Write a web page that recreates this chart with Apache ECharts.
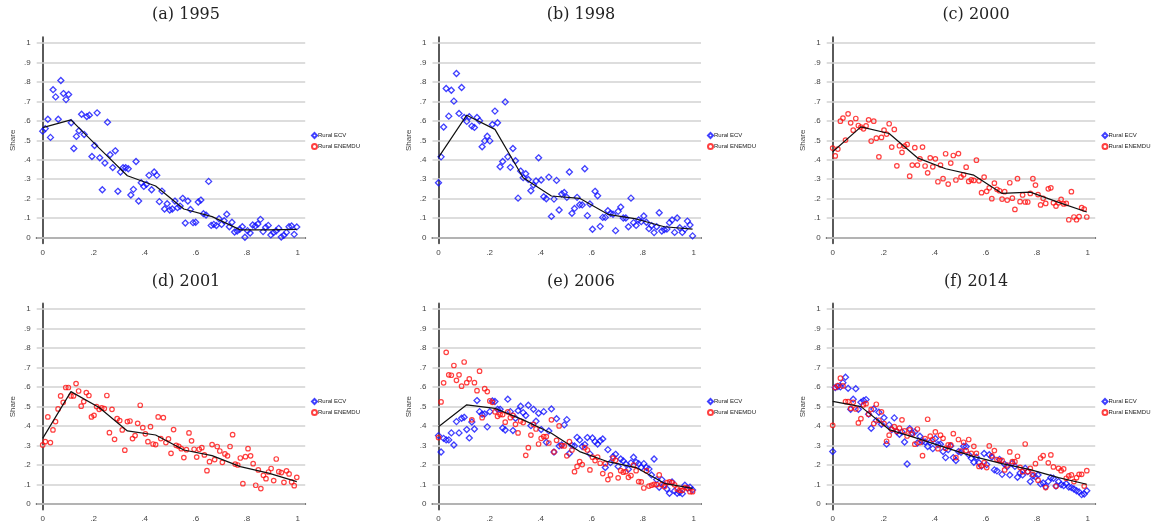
<!DOCTYPE html>
<html>
<head>
<meta charset="utf-8" />
<title>Rural share by percentile</title>
<style>
  html, body { margin: 0; padding: 0; background: #fff; }
  #chartBox { width: 1151px; height: 529px; }
</style>
</head>
<body>
<div id="chartBox"></div>
<script src="https://cdn.jsdelivr.net/npm/echarts@6/dist/echarts.min.js"></script>
<script>
// panel titles
var panelTitles = ['(a) 1995', '(b) 1998', '(c) 2000', '(d) 2001', '(e) 2006', '(f) 2014'];
var yTicks = [0, 0.1, 0.2, 0.3, 0.4, 0.5, 0.6, 0.7, 0.8, 0.9, 1];
var xTicks = [0, 0.2, 0.4, 0.6, 0.8, 1];

// Rural ECV (blue diamonds)
var ecv1995 = [0.547,0.56,0.608,0.515,0.76,0.723,0.608,0.807,0.74,0.709,
  0.735,0.59,0.458,0.52,0.549,0.634,0.53,0.622,0.629,0.417,
  0.473,0.641,0.41,0.246,0.383,0.593,0.426,0.36,0.446,0.238,
  0.337,0.359,0.359,0.354,0.219,0.248,0.391,0.188,0.282,0.263,
  0.274,0.32,0.246,0.337,0.32,0.185,0.239,0.147,0.174,0.142,
  0.147,0.188,0.154,0.162,0.202,0.075,0.188,0.145,0.077,0.079,
  0.183,0.193,0.123,0.116,0.289,0.063,0.068,0.062,0.097,0.068,
  0.087,0.12,0.056,0.079,0.029,0.034,0.043,0.056,0.002,0.036,
  0.024,0.065,0.06,0.07,0.094,0.031,0.053,0.063,0.014,0.026,
  0.034,0.048,0.003,0.012,0.027,0.056,0.06,0.017,0.055];
var ecv1998 = [0.282,0.415,0.568,0.766,0.624,0.757,0.701,0.843,0.638,0.771,
  0.617,0.597,0.621,0.573,0.566,0.617,0.6,0.467,0.497,0.521,
  0.497,0.581,0.65,0.59,0.364,0.391,0.697,0.415,0.361,0.458,
  0.395,0.203,0.342,0.308,0.328,0.299,0.241,0.27,0.291,0.41,
  0.296,0.21,0.2,0.311,0.109,0.198,0.294,0.142,0.224,0.232,
  0.207,0.337,0.125,0.15,0.207,0.169,0.168,0.354,0.113,0.173,
  0.043,0.238,0.215,0.058,0.104,0.104,0.138,0.125,0.12,0.036,
  0.135,0.157,0.101,0.101,0.056,0.203,0.077,0.063,0.091,0.082,
  0.111,0.079,0.046,0.062,0.026,0.056,0.128,0.034,0.041,0.044,
  0.077,0.091,0.027,0.101,0.051,0.027,0.044,0.085,0.065,0.009];
var ecv2006 = [0.351,0.267,0.337,0.329,0.329,0.365,0.303,0.423,0.365,0.44,
  0.445,0.382,0.339,0.421,0.385,0.531,0.474,0.461,0.462,0.396,
  0.474,0.529,0.526,0.486,0.486,0.39,0.38,0.538,0.474,0.377,
  0.44,0.479,0.502,0.469,0.454,0.507,0.402,0.486,0.425,0.466,
  0.382,0.474,0.317,0.375,0.488,0.267,0.438,0.298,0.303,0.406,
  0.433,0.259,0.301,0.298,0.342,0.329,0.295,0.305,0.341,0.257,
  0.339,0.32,0.308,0.324,0.334,0.187,0.279,0.212,0.243,0.255,
  0.193,0.231,0.221,0.205,0.178,0.211,0.24,0.214,0.207,0.187,
  0.207,0.187,0.18,0.149,0.231,0.125,0.086,0.125,0.098,0.077,
  0.055,0.113,0.067,0.055,0.06,0.053,0.096,0.08,0.086,0.072];
var ecv2014 = [0.269,0.598,0.603,0.601,0.623,0.651,0.594,0.486,0.538,0.592,
  0.486,0.522,0.531,0.536,0.461,0.389,0.488,0.428,0.471,0.409,
  0.443,0.307,0.406,0.382,0.442,0.372,0.358,0.37,0.318,0.205,
  0.387,0.365,0.37,0.313,0.348,0.322,0.318,0.295,0.317,0.284,
  0.336,0.305,0.307,0.269,0.238,0.279,0.298,0.238,0.223,0.269,
  0.265,0.296,0.295,0.253,0.235,0.214,0.24,0.212,0.195,0.259,
  0.202,0.253,0.241,0.175,0.17,0.229,0.152,0.204,0.192,0.149,
  0.209,0.193,0.137,0.159,0.149,0.183,0.166,0.115,0.144,0.139,
  0.149,0.103,0.108,0.089,0.116,0.135,0.132,0.092,0.115,0.099,
  0.094,0.104,0.087,0.084,0.077,0.068,0.062,0.048,0.051,0.068];

// Rural ENEMDU (red circles)
var enemdu2000 = [0.46,0.42,0.455,0.598,0.614,0.501,0.636,0.59,0.552,0.612,
  0.576,0.568,0.559,0.574,0.605,0.496,0.598,0.511,0.415,0.515,
  0.552,0.532,0.585,0.465,0.556,0.369,0.472,0.438,0.47,0.479,
  0.316,0.373,0.462,0.373,0.405,0.465,0.368,0.333,0.41,0.364,
  0.405,0.287,0.373,0.303,0.431,0.275,0.383,0.422,0.296,0.432,
  0.311,0.323,0.362,0.289,0.297,0.294,0.398,0.292,0.231,0.311,
  0.238,0.256,0.2,0.28,0.248,0.241,0.198,0.236,0.193,0.282,
  0.203,0.145,0.303,0.185,0.219,0.183,0.183,0.227,0.303,0.27,
  0.221,0.168,0.202,0.176,0.251,0.256,0.179,0.162,0.179,0.197,
  0.173,0.176,0.092,0.236,0.106,0.092,0.108,0.154,0.147,0.106];
var enemdu2001 = [0.303,0.32,0.447,0.315,0.38,0.423,0.488,0.555,0.522,0.598,
  0.598,0.555,0.555,0.618,0.58,0.502,0.526,0.572,0.557,0.447,
  0.455,0.5,0.486,0.493,0.49,0.557,0.366,0.486,0.332,0.438,
  0.428,0.38,0.276,0.423,0.426,0.336,0.351,0.414,0.507,0.392,
  0.36,0.32,0.397,0.308,0.305,0.447,0.336,0.443,0.315,0.334,
  0.26,0.382,0.301,0.296,0.284,0.238,0.279,0.365,0.324,0.281,
  0.241,0.281,0.289,0.252,0.171,0.217,0.305,0.228,0.295,0.272,
  0.214,0.257,0.247,0.295,0.356,0.205,0.2,0.236,0.104,0.243,
  0.284,0.247,0.207,0.096,0.175,0.079,0.147,0.13,0.164,0.182,
  0.12,0.231,0.166,0.161,0.111,0.17,0.154,0.113,0.094,0.137];
var enemdu2006 = [0.341,0.524,0.622,0.779,0.663,0.661,0.711,0.635,0.663,0.605,
  0.729,0.623,0.642,0.432,0.623,0.582,0.682,0.443,0.592,0.577,
  0.529,0.522,0.473,0.45,0.459,0.459,0.42,0.473,0.443,0.455,
  0.409,0.365,0.426,0.418,0.25,0.289,0.354,0.409,0.385,0.308,
  0.337,0.346,0.346,0.313,0.432,0.267,0.327,0.401,0.3,0.298,
  0.247,0.32,0.277,0.166,0.193,0.217,0.202,0.289,0.277,0.175,
  0.24,0.223,0.241,0.209,0.156,0.207,0.125,0.149,0.235,0.224,
  0.134,0.171,0.163,0.166,0.137,0.146,0.199,0.171,0.115,0.113,
  0.082,0.171,0.092,0.096,0.101,0.099,0.149,0.099,0.089,0.11,
  0.113,0.11,0.098,0.077,0.07,0.07,0.084,0.082,0.063,0.063];
var enemdu2014 = [0.404,0.598,0.608,0.646,0.606,0.526,0.526,0.491,0.522,0.488,
  0.416,0.438,0.509,0.515,0.461,0.486,0.413,0.512,0.43,0.473,
  0.413,0.322,0.353,0.384,0.397,0.373,0.389,0.432,0.375,0.349,
  0.38,0.358,0.307,0.385,0.315,0.248,0.336,0.435,0.348,0.331,
  0.37,0.284,0.353,0.337,0.286,0.303,0.303,0.361,0.238,0.331,
  0.272,0.317,0.274,0.331,0.26,0.296,0.26,0.193,0.197,0.212,
  0.187,0.298,0.247,0.274,0.228,0.223,0.224,0.175,0.2,0.267,
  0.217,0.217,0.245,0.188,0.166,0.308,0.166,0.183,0.152,0.207,
  0.122,0.236,0.248,0.084,0.211,0.252,0.19,0.091,0.183,0.171,
  0.18,0.132,0.144,0.149,0.115,0.135,0.152,0.152,0.092,0.171];

// black fitted line, 10 bins
var fit1995 = [0.565,0.605,0.46,0.318,0.265,0.147,0.108,0.04,0.04,0.043];
var fit1998 = [0.412,0.629,0.556,0.308,0.214,0.202,0.12,0.096,0.056,0.044];
var fit2000 = [0.441,0.569,0.535,0.41,0.354,0.321,0.227,0.234,0.181,0.132];
var fit2001 = [0.337,0.577,0.495,0.375,0.354,0.277,0.248,0.192,0.158,0.115];
var fit2006 = [0.397,0.509,0.491,0.432,0.363,0.269,0.217,0.187,0.106,0.08];
var fit2014 = [0.527,0.5,0.382,0.337,0.289,0.243,0.207,0.176,0.135,0.101];

var panelEcv = [ecv1995, ecv1998, null, null, ecv2006, ecv2014];
var panelEnemdu = [null, null, enemdu2000, enemdu2001, enemdu2006, enemdu2014];
var panelFit = [fit1995, fit1998, fit2000, fit2001, fit2006, fit2014];

// layout
var colLeft = [36.7, 432.5, 826.7];
var rowTop = [37.3, 303.6];
var gridW = 268.5, gridH = 206;
var titleX = [186, 581, 976];
var titleY = [15, 282];
var legendX = [311, 707, 1101.5];
var legendY = [132, 398];
var xEnd = 0.996;

// percentile rank -> x
function toPoints(vals) {
  var n = vals.length;
  return vals.map(function (v, i) { return [i / (n - 1) * xEnd, v]; });
}
function tickText(v) {
  var s = String(Math.round(v * 10) / 10);
  return s.replace(/^0\./, '.');
}

var grids = [], xAxes = [], yAxes = [], series = [], legends = [], graphics = [];
for (var p = 0; p < 6; p++) {
  var c = p % 3, r = Math.floor(p / 3);
  grids.push({ left: colLeft[c], top: rowTop[r], width: gridW, height: gridH });
  xAxes.push({
    gridIndex: p, type: 'value', min: -0.0235, max: 1.029,
    splitLine: { show: false }, axisTick: { show: false },
    axisLine: { lineStyle: { color: '#5a5a5a', width: 2 } },
    axisLabel: { customValues: xTicks, formatter: tickText, fontSize: 8, color: '#444', margin: 5, fontFamily: 'Liberation Sans' }
  });
  yAxes.push({
    gridIndex: p, type: 'value', min: -0.029, max: 1.029,
    name: 'Share', nameLocation: 'middle', nameGap: 20,
    nameTextStyle: { fontSize: 8, color: '#444', fontFamily: 'Liberation Sans' },
    splitLine: { show: false }, axisTick: { show: false },
    axisLine: { lineStyle: { color: '#5a5a5a', width: 2 } },
    axisLabel: { customValues: yTicks, formatter: tickText, fontSize: 8, color: '#444', margin: 6, fontFamily: 'Liberation Sans' }
  });
  if (panelEcv[p]) {
    series.push({
      name: 'Rural ECV', type: 'scatter', xAxisIndex: p, yAxisIndex: p,
      symbol: 'diamond', symbolSize: 6, z: 3,
      itemStyle: { color: 'rgba(0,0,0,0)', borderColor: '#1010ff', borderWidth: 1.3 },
      data: toPoints(panelEcv[p])
    });
  }
  if (panelEnemdu[p]) {
    series.push({
      name: 'Rural ENEMDU', type: 'scatter', xAxisIndex: p, yAxisIndex: p,
      symbol: 'circle', symbolSize: 4.5, z: 3,
      itemStyle: { color: 'rgba(0,0,0,0)', borderColor: '#ff1010', borderWidth: 1.2 },
      data: toPoints(panelEnemdu[p])
    });
  }
  series.push({
    name: 'fit', type: 'line', xAxisIndex: p, yAxisIndex: p,
    showSymbol: false, symbol: 'none', z: 4,
    lineStyle: { color: '#111', width: 1.2 },
    data: panelFit[p].map(function (v, i) { return [i / 9 * xEnd, v]; }),
    markLine: {
      silent: true, symbol: ['none', 'none'], z: 1,
      label: { show: false },
      lineStyle: { color: '#d2d2d2', width: 1.5, type: 'solid' },
      data: yTicks.map(function (t) { return { yAxis: t }; })
    }
  });
  legends.push({
    left: legendX[c], top: legendY[r], orient: 'vertical', padding: 0,
    itemWidth: 5, itemHeight: 5, itemGap: 4,
    textStyle: { fontSize: 6, color: '#222', fontFamily: 'Liberation Sans', padding: [0, 0, 0, -4] },
    data: ['Rural ECV', 'Rural ENEMDU']
  });
  graphics.push({
    type: 'text', x: titleX[c], y: titleY[r],
    style: { text: panelTitles[p], textAlign: 'center', textVerticalAlign: 'middle',
      fontSize: 16, fontFamily: 'DejaVu Serif', fill: '#222' }
  });
}

var myChart = echarts.init(document.getElementById('chartBox'));
myChart.setOption({
  animation: false,
  grid: grids,
  xAxis: xAxes,
  yAxis: yAxes,
  legend: legends,
  graphic: graphics,
  series: series
});
</script>
</body>
</html>
